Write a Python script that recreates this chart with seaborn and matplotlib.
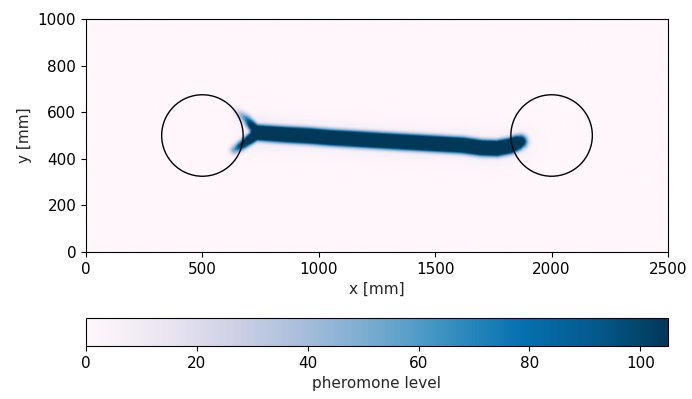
import matplotlib
matplotlib.use("Agg")
import matplotlib.pyplot as plt
import numpy as np
import seaborn as sns

# trail centre lines (mm) with their strength
MAIN_X = [738, 850, 962, 1048, 1336, 1620, 1700, 1765, 1820, 1851, 1866]
MAIN_Y = [512, 504, 498, 491, 474, 458, 447, 445, 455, 468, 474]
MAIN_LEVEL = [300, 320, 320, 320, 320, 320, 320, 320, 300, 240, 160]

UPPER_X = [652, 690, 718, 740]
UPPER_Y = [600, 570, 537, 515]
UPPER_LEVEL = [25, 75, 150, 260]

LOWER_X = [638, 665, 690, 734]
LOWER_Y = [438, 455, 473, 505]
LOWER_LEVEL = [55, 110, 150, 260]

# faint glow around the trail
HALO_LEVEL = [14, 12, 10, 10, 10, 10, 10, 10, 10, 8, 6]

TRAIL_WIDTH = 27.0
BRANCH_WIDTH = 20.0
HALO_WIDTH = 70.0

NEST_X = [500, 2000]
NEST_Y = [500, 500]
NEST_R = 175

LEVEL_MAX = 105
ARENA_W, ARENA_H = 2500, 1000
X_TICKS = [0, 500, 1000, 1500, 2000, 2500]
Y_TICKS = [0, 200, 400, 600, 800, 1000]
CBAR_TICKS = [0, 20, 40, 60, 80, 100]


def trail_field(gx, gy, xs, ys, levels, width):
    field = np.zeros_like(gx)
    for i in range(len(xs) - 1):
        x0, y0, x1, y1 = xs[i], ys[i], xs[i + 1], ys[i + 1]
        dx, dy = x1 - x0, y1 - y0
        t = ((gx - x0) * dx + (gy - y0) * dy) / (dx * dx + dy * dy)
        t = np.clip(t, 0, 1)
        d2 = (gx - x0 - t * dx) ** 2 + (gy - y0 - t * dy) ** 2
        lvl = levels[i] + t * (levels[i + 1] - levels[i])
        field = np.maximum(field, lvl * np.exp(-d2 / width ** 2))
    return field


def main():
    sns.set_style("ticks")
    plt.rcParams["font.family"] = ["DejaVu Sans"]
    plt.rcParams.update({
        "font.size": 11,
        "axes.edgecolor": "black",
        "axes.linewidth": 0.8,
        "xtick.color": "black",
        "ytick.color": "black",
        "xtick.major.size": 3.5,
        "ytick.major.size": 3.5,
        "xtick.direction": "out",
        "ytick.direction": "out",
    })

    res = 2.5
    gx, gy = np.meshgrid(np.arange(0, ARENA_W, res) + res / 2,
                         np.arange(0, ARENA_H, res) + res / 2)
    field = np.maximum.reduce([
        trail_field(gx, gy, MAIN_X, MAIN_Y, MAIN_LEVEL, TRAIL_WIDTH),
        trail_field(gx, gy, UPPER_X, UPPER_Y, UPPER_LEVEL, BRANCH_WIDTH),
        trail_field(gx, gy, LOWER_X, LOWER_Y, LOWER_LEVEL, BRANCH_WIDTH),
        trail_field(gx, gy, MAIN_X, MAIN_Y, HALO_LEVEL, HALO_WIDTH),
    ])
    field = np.clip(field, 0, LEVEL_MAX)

    cmap = sns.color_palette("PuBu", as_cmap=True)

    fig = plt.figure(figsize=(6.92, 3.99), dpi=100)
    ax = fig.add_axes([86 / 692, 1 - 252 / 399, 582 / 692, 233 / 399])
    cax = fig.add_axes([86 / 692, 1 - 346 / 399, 582 / 692, 28 / 399])

    im = ax.imshow(field, origin="lower", extent=[0, ARENA_W, 0, ARENA_H],
                   cmap=cmap, vmin=0, vmax=LEVEL_MAX, interpolation="bilinear",
                   aspect="equal")
    for cx, cy in zip(NEST_X, NEST_Y):
        ax.add_patch(plt.Circle((cx, cy), NEST_R, fill=False, color="black", lw=1.0))

    ax.set_xlim(0, ARENA_W)
    ax.set_ylim(0, ARENA_H)
    ax.set_xticks(X_TICKS)
    ax.set_yticks(Y_TICKS)
    ax.set_xlabel("x [mm]")
    ax.set_ylabel("y [mm]")

    cb = fig.colorbar(im, cax=cax, orientation="horizontal")
    cb.set_ticks(CBAR_TICKS)
    cb.set_label("pheromone level")
    cb.outline.set_linewidth(0.8)

    fig.savefig("out.png", dpi=100)
    plt.close(fig)


if __name__ == "__main__":
    main()
